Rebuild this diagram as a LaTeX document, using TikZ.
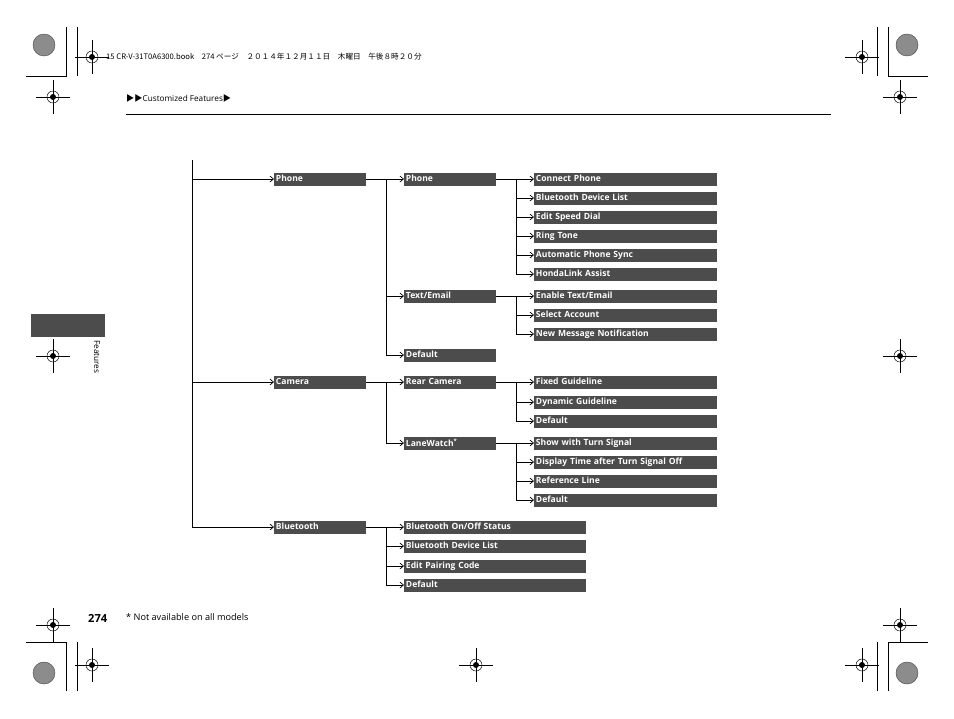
\documentclass[tikz,border=0pt]{standalone}
\usepackage{fontspec}
\setmainfont{Open Sans}
\newfontfamily\cjk{Noto Sans CJK JP}
\usetikzlibrary{arrows.meta, positioning}

\begin{document}
\begin{tikzpicture}[
    x=0.03cm, y=-0.03cm,
    item/.style={fill=black!70, text=white, font=\bfseries\fontsize{7.3}{8}\selectfont, anchor=west, inner sep=1.5pt, minimum height=0.39cm, text depth=0.6pt, align=left},
    lvla/.style={item, text width=2.64cm},
    lvlb/.style={item, text width=5.38cm},
    link/.style={-{Straight Barb[length=3pt, width=5pt]}, semithick},
    regmark/.style={thin},
    rosette/.style={fill=black!45, draw=black!70}
]
\useasboundingbox (0,0) rectangle (954,718);

% Page frame marks
\foreach \px/\py in {92/57, 53/97, 862/57, 900/97, 53/356, 900/356, 53/625, 92/665, 476/665, 862/665, 900/625} {
  \draw[regmark] (\px-17,\py) -- (\px+17,\py) (\px,\py-17) -- (\px,\py+17);
  \draw[regmark] (\px,\py) circle (6);
  \fill (\px,\py) circle (3);
}
\foreach \px/\py in {44/45, 907/45, 44/673, 907/673}
  \draw[rosette] (\px,\py) circle (11);
\draw[regmark] (26,76) -- (66,76) -- (66,27) (77,27) -- (77,76);
\draw[regmark] (928,76) -- (888,76) -- (888,27) (877,27) -- (877,76);
\draw[regmark] (26,642) -- (66,642) -- (66,691) (77,691) -- (77,642);
\draw[regmark] (928,642) -- (888,642) -- (888,691) (877,691) -- (877,642);

% Header
\node[anchor=west, font=\cjk\fontsize{6.5}{7}\selectfont, inner sep=0] (book) at (106,57) {15 CR-V-31T0A6300.book\quad 274 ページ\quad ２０１４年１２月１１日\quad 木曜日\quad 午後８時２０分};
\node[anchor=west, font=\fontsize{7}{8}\selectfont, inner sep=0] (crumb) at (126,98) {{\cjk ▶▶}Customized Features{\cjk ▶}};
\draw[semithick] (126,114) -- (831,114);

% Side tab
\fill[black!70] (31,314) rectangle (105,337);
\node[rotate=-90, anchor=west, font=\fontsize{7}{8}\selectfont, inner sep=0] (tab) at (97,340) {Features};

% Footer
\node[anchor=west, font=\bfseries\fontsize{9.5}{10}\selectfont, inner sep=0] (page) at (88,618) {274};
\node[anchor=west, font=\fontsize{7.8}{9}\selectfont, inner sep=0] (note) at (126,617) {* Not available on all models};

% Top level
\coordinate (root) at (192,160);
\node[lvla] (phone) at (274,179) {Phone};
\node[lvla] (camera) at (274,382) {Camera};
\node[lvla] (bt) at (274,527) {Bluetooth};
\draw[semithick] (root) -- (192,527);
\foreach \n in {phone, camera, bt}
  \draw[link] (192,0 |- \n.west) -- (\n.west);

% Phone
\node[lvla] (pphone) at (404,179) {Phone};
\node[lvla] (ptext) at (404,296) {Text/Email};
\node[lvla] (pdef) at (404,355) {Default};
\draw[semithick] (phone.east) -- (386,179) -- (386,355);
\foreach \n in {pphone, ptext, pdef}
  \draw[link] (386,0 |- \n.west) -- (\n.west);

\foreach \t [count=\i from 0] in {Connect Phone, Bluetooth Device List, Edit Speed Dial, Ring Tone, Automatic Phone Sync, HondaLink Assist}
  \node[lvlb] (ph\i) at (534,179+19*\i) {\t};
\draw[semithick] (pphone.east) -- (516,179) -- (516,274);
\foreach \i in {0,...,5}
  \draw[link] (516,0 |- ph\i.west) -- (ph\i.west);

\foreach \t [count=\i from 0] in {{Enable Text/Email}, Select Account, New Message Notification}
  \node[lvlb] (tx\i) at (534,296+19*\i) {\t};
\draw[semithick] (ptext.east) -- (516,296) -- (516,334);
\foreach \i in {0,...,2}
  \draw[link] (516,0 |- tx\i.west) -- (tx\i.west);

% Camera
\node[lvla] (crear) at (404,382) {Rear Camera};
\node[lvla] (clane) at (404,443) {LaneWatch\textsuperscript{*}};
\draw[semithick] (camera.east) -- (386,382) -- (386,443);
\foreach \n in {crear, clane}
  \draw[link] (386,0 |- \n.west) -- (\n.west);

\foreach \t/\yy [count=\i from 0] in {Fixed Guideline/382, Dynamic Guideline/402, Default/421}
  \node[lvlb] (rc\i) at (534,\yy) {\t};
\draw[semithick] (crear.east) -- (516,382) -- (516,421);
\foreach \i in {0,...,2}
  \draw[link] (516,0 |- rc\i.west) -- (rc\i.west);

\foreach \t/\yy [count=\i from 0] in {Show with Turn Signal/443, Display Time after Turn Signal Off/462, Reference Line/481, Default/500}
  \node[lvlb] (lw\i) at (534,\yy) {\t};
\draw[semithick] (clane.east) -- (516,443) -- (516,500);
\foreach \i in {0,...,3}
  \draw[link] (516,0 |- lw\i.west) -- (lw\i.west);

% Bluetooth
\foreach \t/\yy [count=\i from 0] in {{Bluetooth On/Off Status}/527, Bluetooth Device List/546, Edit Pairing Code/566, Default/585}
  \node[item, text width=5.34cm] (bl\i) at (404,\yy) {\t};
\draw[semithick] (bt.east) -- (386,527) -- (386,585);
\foreach \i in {0,...,3}
  \draw[link] (386,0 |- bl\i.west) -- (bl\i.west);

\end{tikzpicture}
\end{document}
